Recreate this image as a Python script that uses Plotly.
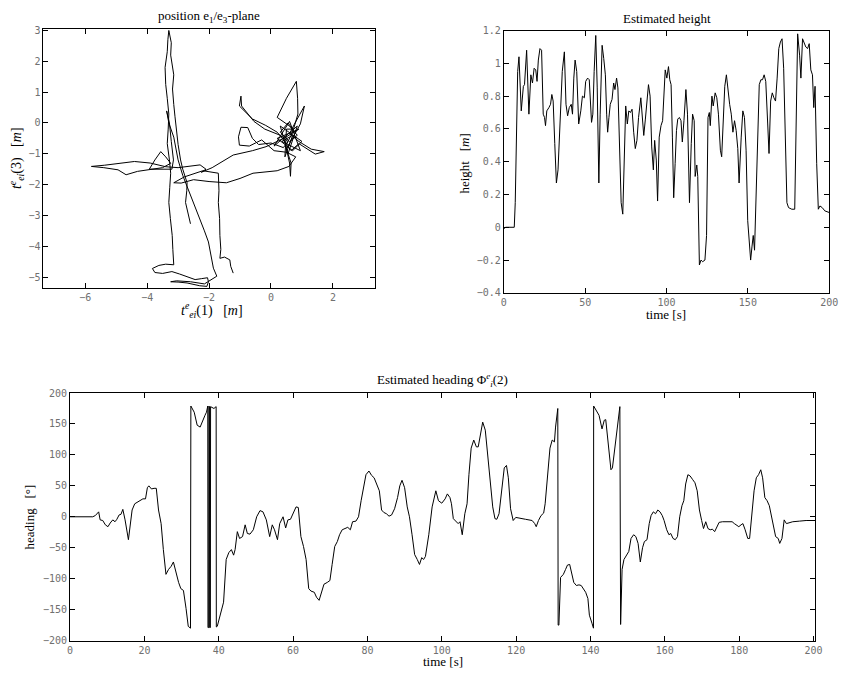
import plotly.graph_objects as go

# position trajectory in the e1/e3 plane [m]
pos_x = [-2.60, -2.68, -2.76, -2.72, -2.71, -2.85, -2.92, -3.00, -3.03, -3.10,
         -3.14, -3.18, -3.14, -3.20, -3.24, -3.22, -3.30, -3.33, -3.35, -3.42,
         -3.40, -3.35, -3.30, -3.32, -3.35, -3.28, -3.24, -3.27, -3.30, -3.25,
         -3.19, -3.17, -3.14, -3.40, -3.62, -3.83, -3.75, -3.50, -3.20, -2.95,
         -2.71, -2.45, -2.25, -2.05, -2.02, -2.07, -2.30, -2.71, -3.00, -3.24,
         -3.05, -2.60, -2.15, -1.95, -1.75, -1.86, -1.93, -2.02, -2.15, -2.34,
         -2.50, -2.66, -2.85, -3.00, -3.14, -3.30, -3.37, -3.28, -3.22, -3.15,
         -3.20, -3.45, -3.93, -3.75, -3.56, -3.40, -3.24, -3.50, -3.93, -4.31,
         -4.68, -4.94, -5.40, -5.80, -5.37, -4.80, -4.41, -3.90, -3.40, -3.00,
         -2.60, -2.29, -2.10, -2.25, -1.90, -1.22, -0.60, -0.16, 0.20, 0.48,
         0.90, 0.20, 0.70, 1.00, 0.30, 0.55, 0.85, 0.10, 0.60, 0.95, 0.35, 0.70, 0.45, 0.50,
         0.70, 0.55, 0.30, 0.60, 0.85, 0.60, 0.20, 0.50, 0.82, 0.86,
         0.87, 0.70, 0.50, 0.65, 0.90, 1.20, 1.43, 1.72, 1.30, 0.90,
         0.60, 0.75, 1.08, 0.95, 0.70, 0.50, 0.65, 0.63, 0.60, 0.45,
         0.20, -0.17, -0.60, -1.02, -0.97, -0.95, -0.55, -0.20, 0.30, 0.55,
         0.40, 0.00, -0.40, -0.60, -0.75, -0.97, -1.05, -1.02, -0.70, -0.30,
         0.10, 0.50, 0.80, 0.58, 0.20, -0.58, -1.00, -1.44, -2.00, -2.50,
         -2.90, -3.14, -2.80, -2.20, -1.70, -1.68, -1.70, -1.66, -1.65, -1.62,
         -1.65, -1.50, -1.33, -1.30, -1.22]
pos_y = [-3.27, -2.95, -2.58, -2.20, -1.94, -1.50, -1.20, -0.70, -0.35, 0.20,
         0.60, 1.10, 1.56, 1.90, 2.20, 2.60, 3.00, 2.70, 2.31, 1.80,
         1.25, 0.80, 0.29, -0.20, -0.67, -1.20, -1.63, -2.10, -2.58, -3.10,
         -3.65, -4.10, -4.60, -4.58, -4.62, -4.72, -4.85, -4.88, -4.82, -4.90,
         -4.98, -5.08, -5.05, -5.02, -5.15, -5.30, -5.28, -5.19, -5.16, -5.15,
         -5.12, -5.15, -5.22, -5.10, -4.97, -4.71, -4.30, -3.86, -3.50, -3.00,
         -2.58, -2.20, -1.70, -1.20, -0.46, 0.00, 0.39, 0.00, -0.60, -1.20,
         -1.50, -1.50, -1.50, -1.20, -0.93, -1.10, -1.31, -1.45, -1.52, -1.57,
         -1.68, -1.52, -1.45, -1.41, -1.37, -1.30, -1.25, -1.30, -1.42, -1.45,
         -1.40, -1.36, -1.50, -1.60, -1.45, -1.04, -0.90, -0.77, -0.60, -0.46,
         -0.20, -0.50, -0.90, -0.60, -0.10, -1.00, -0.10, -0.75, 0.05, -0.90, -0.60, -0.40, -1.10, -0.20,
         -0.20, 0.00, -0.30, -0.60, -0.40, -0.10, 0.18, 0.80, 1.35, 0.80,
         0.29, -0.30, -0.70, -0.90, -0.67, -0.85, -1.01, -0.93, -0.85, -0.60,
         -0.35, -0.05, 0.55, -0.03, -0.50, -0.85, -1.30, -1.73, -1.30, -0.60,
         -0.30, -0.08, 0.13, 0.55, 0.87, 0.55, 0.05, -0.20, -0.40, -0.60,
         -0.80, -0.65, -0.70, -0.50, -0.15, -0.14, -0.45, -0.72, -0.75, -0.55,
         -0.90, -0.95, -1.10, -1.41, -1.55, -1.63, -1.80, -1.94, -1.90, -1.84,
         -1.95, -1.94, -1.75, -1.55, -1.63, -2.20, -2.58, -3.10, -3.65, -4.10,
         -4.39, -4.35, -4.44, -4.65, -4.87]

# estimated height [m] over time [s]
height_t = [0, 1, 2, 3, 4, 5, 6.4, 7, 7.8, 8.5,
            9.3, 10.7, 12, 12.7, 14, 15.4, 16.6, 17.6, 18.6, 19.6,
            20.4, 21.2, 22.2, 23.2, 24.2, 25, 25.6, 26.4, 27.7, 28.7,
            29.5, 30.3, 31.3, 32.3, 33.3, 34.7, 35.9, 37.2, 38.2, 39.2,
            40.2, 41.4, 42.2, 43, 43.8, 44.8, 46, 47.3, 48.3, 49.5,
            50.3, 51.5, 52.5, 53.9, 54.7, 55.5, 56.5, 57.4, 58.4, 59.2,
            60.4, 61.4, 62.4, 63.2, 63.8, 64.6, 65.4, 66.5, 67.5, 68.3,
            69.3, 70.1, 71.1, 72.1, 73.1, 74.1, 74.9, 75.9, 76.8, 77.8,
            78.8, 79.8, 80.8, 81.8, 82.8, 84.2, 85.2, 86, 87, 87.9,
            88.9, 89.9, 90.9, 91.9, 92.7, 93.7, 94.5, 95.5, 96.6, 97.6,
            98.4, 99.2, 100.2, 101.2, 102, 102.8, 103.6, 104.4, 105.3, 106.1,
            106.9, 107.9, 108.9, 109.7, 110.7, 111.9, 112.9, 114.1, 115.2, 116,
            117, 117.6, 118.6, 119.2, 120.2, 121.2, 122.2, 123.6, 124.6, 125.5,
            126.3, 126.9, 127.9, 128.7, 129.9, 130.9, 131.9, 133.1, 133.9, 134.7,
            135.8, 136.8, 137.8, 138.8, 139.8, 140.8, 141.8, 142.8, 143.8, 144.6,
            145.9, 146.9, 147.9, 148.9, 149.9, 150.9, 151.7, 152.5, 153.3, 154.1,
            154.9, 156, 157, 158, 159, 160, 161, 162.2, 163, 164,
            165, 166, 167, 168, 169, 170, 171, 172, 173, 174,
            175, 177, 178.8, 179.6, 180.6, 181.8, 182.6, 183.6, 184.6, 185.6,
            186.7, 187.7, 188.7, 189.7, 190.5, 191.3, 192.3, 193.3, 194.3, 195.7,
            197.3, 199.3, 200]
height_m = [-0.01, 0.0, 0.0, 0.0, 0.0, 0.0, 0.0, 0.15, 0.6, 0.95,
            1.04, 0.71, 0.86, 0.87, 1.08, 0.69, 0.93, 0.88, 0.97, 0.96,
            0.89, 1.02, 1.09, 1.08, 0.69, 0.67, 0.62, 0.71, 0.73, 0.75,
            0.81, 0.77, 0.51, 0.27, 0.35, 0.71, 0.95, 1.07, 0.75, 0.68,
            0.73, 0.75, 0.69, 0.91, 1.02, 0.95, 0.63, 0.71, 0.80, 0.79,
            0.89, 0.91, 0.90, 0.64, 0.69, 0.95, 1.17, 0.85, 0.27, 0.69,
            1.11, 1.03, 0.93, 0.69, 0.58, 0.67, 0.75, 0.78, 0.88, 0.84,
            0.91, 0.85, 0.51, 0.15, 0.08, 0.51, 0.74, 0.63, 0.71, 0.70,
            0.72, 0.58, 0.48, 0.53, 0.67, 0.79, 0.63, 0.56, 0.66, 0.79,
            0.87, 0.80, 0.49, 0.35, 0.53, 0.41, 0.16, 0.55, 0.62, 0.65,
            0.84, 0.96, 0.91, 0.98, 0.90, 0.87, 0.55, 0.18, 0.39, 0.59,
            0.66, 0.67, 0.65, 0.52, 0.65, 0.84, 0.69, 0.15, 0.51, 0.69,
            0.65, 0.31, 0.38, 0.31, -0.23, -0.20, -0.21, -0.20, -0.05, 0.67,
            0.70, 0.62, 0.80, 0.74, 0.82, 0.79, 0.69, 0.47, 0.43, 0.65,
            0.86, 0.93, 0.82, 0.75, 0.69, 0.58, 0.65, 0.59, 0.48, 0.27,
            0.55, 0.71, 0.67, 0.47, 0.04, -0.13, -0.20, -0.12, -0.05, -0.14,
            0.15, 0.65, 0.87, 0.90, 0.90, 0.93, 0.89, 0.63, 0.45, 0.77,
            0.82, 0.79, 0.77, 0.91, 1.09, 1.13, 1.15, 0.97, 0.55, 0.15,
            0.12, 0.11, 0.11, 0.55, 1.18, 1.05, 0.91, 1.15, 1.13, 1.10,
            1.09, 1.12, 0.96, 0.93, 0.73, 0.86, 0.39, 0.11, 0.13, 0.12,
            0.10, 0.09, 0.09]

# estimated heading [deg] over time [s], wrapped to +-180
heading_t = [0, 6.1, 6.8, 7.7, 8.1, 8.8, 9.5, 10.2, 10.8, 11.5,
             12.1, 12.6, 13.2, 13.7, 14.2, 14.8, 15.7, 16.1, 16.7, 17.4,
             18.3, 19, 19.6, 20.3, 20.8, 21.2, 21.9, 22.6, 23.2, 23.8,
             24.5, 25.1, 25.8, 26.5, 27.2, 27.8, 28.5, 29.2, 29.8, 30.5,
             31.2, 31.8, 32.4, 32.5, 33.4, 34.2, 35, 35.8, 36.3, 36.7,
             37.05, 37.1, 37.3, 37.35, 37.5, 37.55, 37.75, 37.8, 38.7, 39.3,
             39.35, 39.6, 40.4, 41.3, 42, 42.7, 43.4, 44, 44.4, 45,
             45.6, 46.4, 47.1, 47.7, 48.4, 49.3, 50.2, 51.1, 51.9, 52.8,
             53.7, 54.4, 55, 55.8, 56.4, 57.3, 58, 58.6, 59.3, 59.9,
             60.8, 61.4, 62.1, 62.8, 63.5, 64.2, 64.8, 65.7, 66.3, 67,
             67.7, 68.3, 69.2, 69.9, 70.5, 71.2, 71.9, 72.5, 73.2, 74.1,
             74.7, 75.4, 76, 76.9, 77.6, 78.3, 79, 79.6, 80.4, 81.1,
             81.8, 82.5, 83.2, 83.8, 84.4, 85.1, 85.8, 86.5, 87.3, 88.1,
             88.7, 89.3, 90, 90.7, 91.3, 92, 92.7, 93.4, 94, 94.6,
             95.1, 95.6, 96.5, 97.4, 98, 98.4, 99.1, 100, 100.9, 101.5,
             102.2, 102.6, 103.1, 103.8, 104.4, 104.9, 105.5, 106.2, 106.8, 107.3,
             107.9, 108.6, 109.3, 109.8, 110.4, 111, 111.7, 112.4, 113, 113.7,
             114.3, 114.8, 115.4, 116.1, 116.8, 117.4, 117.9, 118.5, 119.2, 119.9,
             121.2, 122.5, 124.3, 125, 125.4, 126, 126.7, 127.4, 127.8, 128.5,
             129.1, 129.7, 130.3, 130.6, 131.2, 131.3, 131.5, 131.95, 132.7, 133.3,
             133.8, 134.4, 134.9, 135.5, 136.2, 136.9, 137.5, 138.1, 138.7, 139.3,
             139.7, 140.4, 140.8, 140.85, 141.7, 142.3, 143.1, 143.7, 144.1, 144.8,
             145.5, 145.9, 146.6, 147.2, 147.9, 148.1, 148.5, 149, 149.6, 150.3,
             150.9, 151.6, 152.2, 152.8, 153.4, 154, 154.5, 155.2, 155.8, 156.3,
             156.9, 157.5, 158.1, 158.7, 159.3, 159.8, 160.5, 161.1, 161.6, 162.2,
             162.8, 163.4, 164, 164.6, 165.1, 165.6, 166.2, 166.8, 167.5, 168.1,
             168.7, 169.3, 169.9, 170.4, 171, 171.6, 172.2, 172.8, 173.4, 174,
             174.6, 175.5, 176.8, 178.1, 178.7, 179.3, 179.9, 180.5, 181, 181.6,
             182.3, 182.8, 183.4, 184, 184.6, 185.2, 185.8, 186.3, 186.9, 187.5,
             188.1, 188.7, 189.3, 189.8, 190.5, 190.9, 191.5, 192.1, 192.7, 193.3,
             194.4, 196.2, 198, 200.4]
heading_deg = [0, 0, 2, 8, -5, -6, -13, -16, -10, -5,
               -8, -4, 3, 4, 12, -5, -37, -21, 11, 21,
               24, 26, 29, 29, 47, 50, 45, 46, 46, 11,
               -11, -53, -93, -85, -80, -73, -90, -106, -116, -119,
               -148, -177, -180, 179, 169, 148, 145, 158, 164, 169,
               179, -179, -179, 179, 178, -179, -179, 178, 175, 178,
               -178, -177, -159, -138, -69, -58, -53, -62, -53, -24,
               -35, -32, -13, -27, -28, -21, 0, 10, 8, -5,
               -32, -13, -21, -37, -11, 0, -18, -5, -4, 5,
               16, 15, -32, -48, -69, -116, -120, -122, -130, -135,
               -122, -109, -106, -103, -77, -48, -40, -29, -21, -19,
               -17, -21, -8, -7, 0, 26, 50, 68, 74, 67,
               63, 53, 42, 11, 7, 5, 1, 3, 13, 31,
               50, 59, 47, 16, 0, -29, -61, -69, -77, -66,
               -69, -64, -29, 16, 34, 42, 26, 22, 29, 37,
               31, 21, -3, -8, -11, -8, -29, 5, 21, 68,
               111, 124, 113, 113, 137, 153, 140, 95, 53, 16,
               -3, -4, 5, 42, 79, 83, 63, 13, -6, -1,
               -3, -4, -6, -11, -16, -6, 2, 6, 21, 63,
               111, 124, 121, 145, 175, -175, -175, -98, -93, -85,
               -78, -77, -90, -106, -111, -110, -111, -116, -122, -132,
               -159, -172, -180, 179, 169, 164, 142, 156, 157, 121,
               76, 79, 113, 148, 178, -174, -85, -69, -63, -56,
               -35, -29, -32, -43, -73, -50, -40, -37, -11, 2,
               8, 5, 11, 8, 2, -6, -21, -29, -27, -35,
               -37, -32, 0, 18, 26, 53, 68, 66, 60, 55,
               42, 11, -6, -19, -8, -19, -21, -20, -24, -16,
               -9, -8, -8, -8, -11, -13, -16, -13, -11, -21,
               -35, -35, 0, 42, 63, 68, 76, 63, 31, 26,
               18, 0, -16, -32, -35, -43, -35, -5, -11, -10,
               -8, -7, -6, -6]

SERIF = "Liberation Serif"
TICKFONT = dict(family="DejaVu Sans Mono", size=10, color="#707070")
LINE = dict(color="black", width=1)

W, H = 853, 678


def px(x):
    return x / W


def py(y):
    return 1 - y / H


def axis(domain, rng, tickvals, anchor):
    return dict(domain=domain, range=rng, tickvals=tickvals, anchor=anchor,
                showline=True, linecolor="black", linewidth=1, mirror="ticks",
                ticks="inside", ticklen=5, tickcolor="black",
                showgrid=False, zeroline=False, tickfont=TICKFONT)


def note(text, x, y, angle=0, size=13):
    return dict(text=text, x=px(x), y=py(y), xref="paper", yref="paper",
                showarrow=False, textangle=angle, xanchor="center", yanchor="middle",
                font=dict(family=SERIF, size=size, color="black"))


fig = go.Figure()
fig.add_trace(go.Scatter(x=pos_x, y=pos_y, mode="lines", line=LINE,
                         xaxis="x", yaxis="y"))
fig.add_trace(go.Scatter(x=height_t, y=height_m, mode="lines", line=LINE,
                         xaxis="x2", yaxis="y2"))
fig.add_trace(go.Scatter(x=heading_t, y=heading_deg, mode="lines", line=LINE,
                         xaxis="x3", yaxis="y3"))

fig.update_layout(
    width=W, height=H, showlegend=False,
    margin=dict(l=0, r=0, t=0, b=0),
    paper_bgcolor="white", plot_bgcolor="white",
    xaxis=axis([px(41), px(377)], [-7.35, 3.35], [-6, -4, -2, 0, 2], "y"),
    yaxis=axis([py(287), py(23)], [-5.35, 3.06], [-5, -4, -3, -2, -1, 0, 1, 2, 3], "x"),
    xaxis2=axis([px(508), px(838)], [0, 200], [0, 50, 100, 150, 200], "y2"),
    yaxis2=axis([py(292), py(25)], [-0.4, 1.2],
                [-0.4, -0.2, 0, 0.2, 0.4, 0.6, 0.8, 1, 1.2], "x2"),
    xaxis3=axis([px(68), px(824)], [0, 200.5], list(range(0, 201, 20)), "y3"),
    yaxis3=axis([py(646), py(394)], [-200, 200], list(range(-200, 201, 50)), "x3"),
    annotations=[
        note("position e<sub>1</sub>/e<sub>3</sub>-plane", 209, 11),
        note("<i>t</i><sup><i>e</i></sup><sub><i>ei</i></sub>(1)   [<i>m</i>]", 212, 309, size=14),
        note("<i>t</i><sup><i>e</i></sup><sub><i>ei</i></sub>(3)   [<i>m</i>]", 14, 155, angle=-90, size=14),
        note("Estimated height", 673, 13),
        note("time [s]", 672, 314),
        note("height   [<i>m</i>]", 468, 160, angle=-90),
        note("Estimated heading Φ<sup><i>e</i></sup><sub><i>i</i></sub>(2)", 446, 381),
        note("time [s]", 446, 667),
        note("heading   [°]", 27, 520, angle=-90),
    ],
)

# pin the 853x678 figure to the page corner so nothing overflows the window
pin = ("document.documentElement.style.overflow = 'hidden';"
       "document.body.style.margin = '0px';"
       "document.body.style.overflow = 'hidden';"
       "var d = document.getElementById('{plot_id}');"
       "d.style.position = 'absolute'; d.style.left = '0px'; d.style.top = '0px';")
fig.write_html("out.html", config={"displayModeBar": False}, post_script=pin)
